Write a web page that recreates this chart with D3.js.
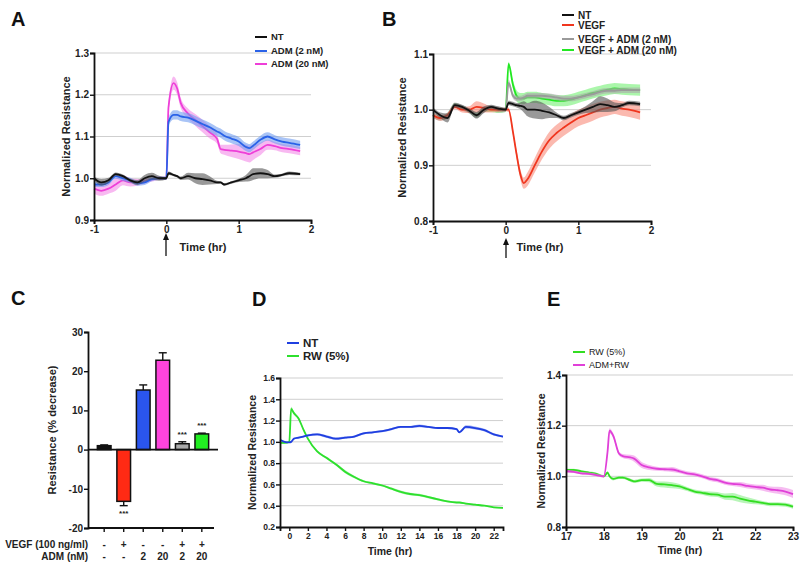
<!DOCTYPE html>
<html><head><meta charset="utf-8">
<script src="https://cdn.jsdelivr.net/npm/d3@7"></script>
<style>
body{margin:0;background:#fff;}
svg{display:block;font-family:"Liberation Sans",Arial,sans-serif;}
</style></head>
<body><svg id="c" width="800" height="566"></svg>
<script>
// ---------- Panel A data ----------
const tA = [-1,-0.9,-0.8,-0.7,-0.6,-0.5,-0.4,-0.3,-0.2,-0.1,0,0.03,0.1,0.15,0.2,0.3,0.4,0.5,0.6,0.7,0.75,0.8,0.9,1.0,1.1,1.15,1.2,1.3,1.4,1.5,1.6,1.7,1.85];
const A_NT    = [1.0,0.99,0.995,1.01,1.005,0.995,0.99,1.0,1.005,1.0,1.0,1.012,1.008,1.005,1.0,1.005,1.0,0.998,0.995,0.99,0.99,0.985,0.99,0.995,1.0,1.005,1.01,1.012,1.01,1.005,1.008,1.012,1.01];
const A_NT_err= [0.004,0.008,0.006,0.004,0.004,0.004,0.006,0.008,0.008,0.006,0.003,0.004,0.003,0.003,0.004,0.008,0.012,0.014,0.01,0.004,0.003,0.003,0.003,0.004,0.008,0.012,0.014,0.012,0.01,0.004,0.003,0.004,0.003];
const A_ADM2  = [0.985,0.985,0.99,1.005,1.0,0.995,0.988,0.99,0.998,1.0,1.0,1.135,1.152,1.152,1.148,1.145,1.138,1.13,1.122,1.112,1.108,1.102,1.095,1.088,1.075,1.072,1.078,1.092,1.1,1.093,1.088,1.085,1.08];
const A_ADM2_err=[0.006,0.006,0.006,0.006,0.006,0.006,0.006,0.006,0.005,0.004,0.004,0.01,0.011,0.011,0.011,0.011,0.011,0.011,0.011,0.011,0.011,0.011,0.011,0.011,0.01,0.01,0.01,0.01,0.01,0.01,0.01,0.01,0.01];
const A_ADM20 = [0.975,0.97,0.975,0.985,0.995,0.99,0.99,0.993,0.997,1.0,1.0,1.17,1.228,1.215,1.18,1.155,1.14,1.125,1.11,1.095,1.07,1.068,1.066,1.064,1.06,1.058,1.062,1.07,1.08,1.077,1.072,1.07,1.065];
const A_ADM20_err=[0.012,0.012,0.012,0.015,0.012,0.01,0.008,0.006,0.005,0.004,0.004,0.012,0.016,0.015,0.012,0.012,0.014,0.015,0.015,0.012,0.01,0.012,0.015,0.018,0.02,0.02,0.018,0.015,0.012,0.01,0.01,0.01,0.01];

// ---------- Panel B data ----------
const tB = [-1,-0.9,-0.8,-0.7,-0.6,-0.5,-0.4,-0.3,-0.2,-0.1,0,0.04,0.1,0.15,0.2,0.25,0.3,0.4,0.5,0.6,0.7,0.8,0.9,1.0,1.1,1.2,1.3,1.4,1.5,1.6,1.7,1.85];
const B_NT     = [1.0,0.99,0.985,1.008,1.005,0.998,0.99,1.0,1.005,1.002,1.0,1.012,1.01,1.008,1.007,1.005,1.0,1.0,0.998,0.995,0.99,0.985,0.99,0.995,1.0,1.005,1.01,1.008,1.005,1.008,1.012,1.01];
const B_NT_err = [0.004,0.005,0.008,0.004,0.004,0.004,0.006,0.006,0.004,0.004,0.003,0.004,0.004,0.004,0.006,0.01,0.012,0.016,0.015,0.01,0.005,0.004,0.004,0.004,0.006,0.01,0.014,0.012,0.008,0.004,0.004,0.004];
const B_VEGF   = [0.99,0.985,0.99,1.005,1.0,1.0,1.005,1.003,1.0,1.0,1.0,1.0,0.96,0.92,0.885,0.868,0.875,0.9,0.925,0.945,0.958,0.968,0.977,0.985,0.99,0.995,1.0,1.003,1.005,1.002,1.0,0.995];
const B_VEGF_err=[0.004,0.005,0.004,0.004,0.005,0.006,0.01,0.008,0.005,0.004,0.003,0.004,0.005,0.007,0.009,0.01,0.012,0.013,0.014,0.015,0.015,0.015,0.015,0.015,0.015,0.015,0.014,0.014,0.013,0.013,0.013,0.013];
const B_ADM2   = [0.99,0.985,0.99,1.008,1.003,0.998,0.99,1.0,1.003,1.0,1.0,1.048,1.025,1.02,1.02,1.022,1.025,1.025,1.025,1.024,1.022,1.02,1.02,1.022,1.025,1.028,1.032,1.034,1.034,1.035,1.035,1.035];
const B_ADM2_err=[0.005,0.005,0.005,0.005,0.005,0.005,0.005,0.005,0.005,0.005,0.004,0.006,0.005,0.005,0.005,0.005,0.005,0.005,0.005,0.005,0.005,0.005,0.005,0.005,0.005,0.005,0.005,0.005,0.005,0.005,0.005,0.005];
const B_ADM20  = [0.99,0.985,0.99,1.008,1.003,0.998,0.99,1.0,1.0,0.998,1.0,1.082,1.045,1.025,1.02,1.02,1.022,1.022,1.02,1.018,1.016,1.016,1.018,1.022,1.026,1.03,1.033,1.036,1.038,1.037,1.036,1.035];
const B_ADM20_err=[0.004,0.004,0.004,0.004,0.004,0.004,0.004,0.004,0.004,0.004,0.004,0.004,0.008,0.01,0.01,0.01,0.01,0.01,0.01,0.01,0.01,0.01,0.01,0.01,0.01,0.01,0.01,0.01,0.01,0.01,0.01,0.01];

// ---------- Panel C data ----------
const cCats   = ["NT","VEGF","ADM2","ADM20","VEGF+ADM2","VEGF+ADM20"];
const cValues = [1.0,-13.2,15.2,22.8,1.5,4.0];
const cErrors = [0.2,1.1,1.3,1.9,0.5,0.2];
const cVEGF   = ["-","+","-","-","+","+"];
const cADM    = ["-","-","2","20","2","20"];
const cStars  = ["","***","","","***","***"];
const cColors = ["#111111","#ff2a14","#2a55ee","#ff44dd","#aaaaaa","#22ee22"];
const cYTicks = [30,20,10,0,-10,-20];

// ---------- Panel D data ----------
const tD = [-1,-0.5,0,0.2,0.5,1,1.5,2,3,4,5,6,7,8,9,10,11,12,13,14,15,16,17,18,18.3,19,20,21,22,23];
const D_NT = [1.02,1.0,0.995,1.0,1.03,1.04,1.05,1.06,1.07,1.05,1.03,1.04,1.05,1.08,1.09,1.10,1.12,1.14,1.14,1.15,1.14,1.13,1.13,1.12,1.09,1.14,1.13,1.11,1.07,1.05];
const D_NT_err = [0.008,0.006,0.006,0.006,0.006,0.008,0.008,0.01,0.01,0.012,0.012,0.01,0.01,0.01,0.01,0.01,0.01,0.01,0.01,0.012,0.01,0.01,0.01,0.01,0.01,0.015,0.015,0.012,0.01,0.008];
const D_RW = [0.99,0.99,1.0,1.31,1.27,1.22,1.12,1.03,0.91,0.85,0.79,0.72,0.67,0.63,0.61,0.59,0.56,0.53,0.51,0.5,0.48,0.46,0.44,0.43,0.43,0.42,0.41,0.40,0.385,0.38];
const D_RW_err = [0.006,0.006,0.006,0.02,0.015,0.012,0.01,0.01,0.01,0.01,0.012,0.015,0.012,0.01,0.01,0.01,0.01,0.012,0.012,0.012,0.012,0.01,0.008,0.008,0.008,0.008,0.008,0.006,0.006,0.006];

// ---------- Panel E data ----------
const tE = [17,17.2,17.4,17.6,17.8,18,18.1,18.15,18.25,18.4,18.5,18.7,18.8,19,19.2,19.4,19.6,19.8,20,20.2,20.4,20.6,20.8,21,21.2,21.4,21.6,21.8,22,22.2,22.4,22.6,22.8,23];
const E_RW = [1.025,1.025,1.02,1.015,1.01,1.0,1.015,1.0,0.99,0.995,0.995,0.985,0.98,0.985,0.985,0.97,0.968,0.965,0.96,0.95,0.94,0.935,0.93,0.928,0.92,0.92,0.912,0.905,0.9,0.895,0.89,0.89,0.888,0.88];
const E_RW_err = [0.005,0.005,0.005,0.005,0.005,0.005,0.006,0.006,0.006,0.006,0.006,0.006,0.006,0.006,0.008,0.01,0.012,0.012,0.01,0.008,0.008,0.008,0.01,0.01,0.012,0.014,0.014,0.012,0.01,0.008,0.008,0.008,0.008,0.008];
const E_ADMRW = [1.02,1.018,1.012,1.01,1.005,1.0,1.1,1.18,1.16,1.09,1.08,1.075,1.07,1.045,1.035,1.03,1.028,1.027,1.02,1.012,1.008,1.0,0.99,0.985,0.975,0.97,0.968,0.962,0.958,0.955,0.948,0.945,0.94,0.93];
const E_ADMRW_err = [0.005,0.005,0.005,0.005,0.005,0.005,0.008,0.01,0.01,0.008,0.008,0.01,0.012,0.012,0.01,0.008,0.008,0.01,0.008,0.008,0.008,0.008,0.008,0.008,0.008,0.008,0.01,0.01,0.01,0.012,0.012,0.014,0.015,0.016];

const svg = d3.select("#c");
const FONT = "'Liberation Sans', Arial, sans-serif";
const plain = d => String(d);            // hyphen-minus like the original
const oneDec = d => d.toFixed(1);

function letter(x, y, t) {
  svg.append("text").attr("x", x).attr("y", y).text(t)
    .attr("font-size", 20).attr("font-weight", "bold").attr("fill", "#111");
}

function styleAxis(g, fs) {
  g.selectAll("path.domain").attr("stroke", "#111").attr("stroke-width", 1.8);
  g.selectAll(".tick line").attr("stroke", "#111").attr("stroke-width", 1.4);
  g.selectAll(".tick text").attr("font-size", fs).attr("font-weight", "bold")
    .attr("fill", "#222").attr("font-family", FONT);
}

function linePanel(o) {
  const x = d3.scaleLinear().domain(o.xdom).range([o.left, o.right]);
  const y = d3.scaleLinear().domain(o.ydom).range([o.bottom, o.top]);
  const g = svg.append("g");
  g.selectAll("line.grid").data(o.grid).join("line")
    .attr("x1", o.left).attr("x2", o.right)
    .attr("y1", d => y(d)).attr("y2", d => y(d))
    .attr("stroke", "#cfcfcf").attr("stroke-width", 1);
  o.series.forEach(s => {
    const pts = s.t.map((t, i) => ({t, v: s.v[i], e: s.e[i]}));
    g.append("path").datum(pts)
      .attr("d", d3.area().x(d => x(d.t)).y0(d => y(d.v - d.e)).y1(d => y(d.v + d.e)).curve(d3.curveMonotoneX))
      .attr("fill", s.band).attr("fill-opacity", s.bandOp);
    g.append("path").datum(pts)
      .attr("d", d3.line().x(d => x(d.t)).y(d => y(d.v)).curve(d3.curveMonotoneX))
      .attr("fill", "none").attr("stroke", s.color).attr("stroke-width", s.w || 1.8);
  });
  const ax = g.append("g").attr("transform", `translate(0,${o.bottom})`)
    .call(d3.axisBottom(x).tickValues(o.xticks).tickSize(4).tickPadding(2).tickFormat(plain));
  styleAxis(ax, o.tfs);
  const ay = g.append("g").attr("transform", `translate(${o.left},0)`)
    .call(d3.axisLeft(y).tickValues(o.yticks).tickSize(4).tickPadding(1).tickFormat(oneDec));
  styleAxis(ay, o.tfs);
  svg.append("text").attr("transform", `translate(${o.ylx},${(o.top + o.bottom) / 2}) rotate(-90)`)
    .attr("text-anchor", "middle").attr("font-size", o.lfs).attr("font-weight", "bold").attr("fill", "#222")
    .text("Normalized Resistance");
  svg.append("text").attr("x", o.xlx).attr("y", o.xly).attr("text-anchor", "middle")
    .attr("font-size", o.lfs).attr("font-weight", "bold").attr("fill", "#222").text("Time (hr)");
  o.series.forEach(s => {
    const ly = s.legY;
    svg.append("line").attr("x1", o.legX).attr("x2", o.legX + 12).attr("y1", ly).attr("y2", ly)
      .attr("stroke", s.color).attr("stroke-width", 2);
    svg.append("text").attr("x", o.legX + 16).attr("y", ly).attr("dy", "0.35em")
      .attr("font-size", o.legfs).attr("font-weight", o.legfw || "bold").attr("fill", "#222").text(s.name);
  });
  return {x, y};
}

function arrow(x, y1, y2) {
  svg.append("line").attr("x1", x).attr("x2", x).attr("y1", y2).attr("y2", y1 + 4)
    .attr("stroke", "#111").attr("stroke-width", 1.3);
  svg.append("path").attr("d", `M${x},${y1} L${x - 3},${y1 + 7} L${x + 3},${y1 + 7} Z`).attr("fill", "#111");
}

// ---------- Panel A ----------
letter(11, 26, "A");
linePanel({
  left: 94, right: 311, top: 53, bottom: 220,
  xdom: [-1, 2], ydom: [0.9, 1.3], xticks: [-1, 0, 1, 2], yticks: [0.9, 1.0, 1.1, 1.2, 1.3],
  grid: [1.0, 1.1, 1.2, 1.3], tfs: 10, lfs: 11,
  ylx: 70, xlx: 203, xly: 251,
  legX: 255, legfs: 9.5,
  series: [
    {name: "ADM (20 nM)", legY: 64, t: tA, v: A_ADM20, e: A_ADM20_err, color: "#ee3fd8", band: "#f27fe6", bandOp: 0.55},
    {name: "ADM (2 nM)", legY: 51, t: tA, v: A_ADM2, e: A_ADM2_err, color: "#2a62e8", band: "#6f9cf0", bandOp: 0.6},
    {name: "NT", legY: 37, t: tA, v: A_NT, e: A_NT_err, color: "#111111", band: "#555555", bandOp: 0.6}
  ]
});
arrow(166, 233, 256);

// ---------- Panel B ----------
letter(382, 26, "B");
linePanel({
  left: 433, right: 651, top: 54, bottom: 221,
  xdom: [-1, 2], ydom: [0.8, 1.1], xticks: [-1, 0, 1, 2], yticks: [0.8, 0.9, 1.0, 1.1],
  grid: [0.9, 1.0, 1.1], tfs: 10, lfs: 11,
  ylx: 406, xlx: 540, xly: 251,
  legX: 562, legfs: 10,
  series: [
    {name: "VEGF + ADM (20 nM)", legY: 50, t: tB, v: B_ADM20, e: B_ADM20_err, color: "#22e822", band: "#66ee66", bandOp: 0.55},
    {name: "VEGF + ADM (2 nM)", legY: 39, t: tB, v: B_ADM2, e: B_ADM2_err, color: "#9a9a9a", band: "#aaaaaa", bandOp: 0.6},
    {name: "VEGF", legY: 25, t: tB, v: B_VEGF, e: B_VEGF_err, color: "#f0361e", band: "#f7806e", bandOp: 0.55},
    {name: "NT", legY: 15, t: tB, v: B_NT, e: B_NT_err, color: "#111111", band: "#555555", bandOp: 0.6}
  ]
});
arrow(506, 238, 258);

// ---------- Panel C ----------
letter(11, 305, "C");
{
  const x = d3.scaleBand().domain(cCats).range([91.5, 214.5]).padding(0.3);
  const y = d3.scaleLinear().domain([-20, 30]).range([528, 332]);
  const g = svg.append("g");
  const data = cCats.map((c, i) => ({c, v: cValues[i], e: cErrors[i], col: cColors[i], s: cStars[i]}));
  data.forEach(d => {
    const cx = x(d.c) + x.bandwidth() / 2;
    const tip = d.v >= 0 ? d.v + d.e : d.v - d.e;
    g.append("line").attr("x1", cx).attr("x2", cx).attr("y1", y(d.v)).attr("y2", y(tip))
      .attr("stroke", "#111").attr("stroke-width", 1.4);
    g.append("line").attr("x1", cx - 4).attr("x2", cx + 4).attr("y1", y(tip)).attr("y2", y(tip))
      .attr("stroke", "#111").attr("stroke-width", 1.4);
  });
  g.selectAll("rect").data(data).join("rect")
    .attr("x", d => x(d.c)).attr("width", x.bandwidth())
    .attr("y", d => y(Math.max(0, d.v))).attr("height", d => Math.abs(y(d.v) - y(0)))
    .attr("fill", d => d.col).attr("stroke", "#111").attr("stroke-width", 1.5);
  g.append("line").attr("x1", 88).attr("x2", 218).attr("y1", y(0)).attr("y2", y(0))
    .attr("stroke", "#111").attr("stroke-width", 1.8);
  data.forEach(d => {
    if (!d.s) return;
    const cx = x(d.c) + x.bandwidth() / 2;
    const yy = d.v >= 0 ? y(d.v + d.e) - 5 : y(d.v - d.e) + 10;
    g.append("text").attr("x", cx).attr("y", yy).attr("text-anchor", "middle")
      .attr("font-size", 8).attr("font-weight", "bold").attr("fill", "#222").text(d.s);
  });
  const ay = g.append("g").attr("transform", "translate(88,0)")
    .call(d3.axisLeft(y).tickValues(cYTicks).tickSize(4).tickPadding(1).tickFormat(plain));
  styleAxis(ay, 10);
  const ax = g.append("g").attr("transform", "translate(0,528)")
    .call(d3.axisBottom(x).tickSize(4).tickFormat(""));
  styleAxis(ax, 10);
  ax.select("path.domain").attr("d", "M88,0H214");
  svg.append("text").attr("transform", "translate(56,430) rotate(-90)").attr("text-anchor", "middle")
    .attr("font-size", 11).attr("font-weight", "bold").attr("fill", "#222").text("Resistance (% decrease)");
  svg.append("text").attr("x", 88).attr("y", 548).attr("text-anchor", "end")
    .attr("font-size", 10).attr("font-weight", "bold").attr("fill", "#222").text("VEGF (100 ng/ml)");
  svg.append("text").attr("x", 88).attr("y", 560).attr("text-anchor", "end")
    .attr("font-size", 10).attr("font-weight", "bold").attr("fill", "#222").text("ADM (nM)");
  cCats.forEach((c, i) => {
    const cx = x(c) + x.bandwidth() / 2;
    svg.append("text").attr("x", cx).attr("y", 548).attr("text-anchor", "middle")
      .attr("font-size", 10).attr("font-weight", "bold").attr("fill", "#222").text(cVEGF[i]);
    svg.append("text").attr("x", cx).attr("y", 560).attr("text-anchor", "middle")
      .attr("font-size", 10).attr("font-weight", "bold").attr("fill", "#222").text(cADM[i]);
  });
}

// ---------- Panel D ----------
letter(252, 306, "D");
linePanel({
  left: 280, right: 503, top: 378, bottom: 527,
  xdom: [-1, 23], ydom: [0.2, 1.6], xticks: d3.range(0, 23, 2), yticks: [0.2, 0.4, 0.6, 0.8, 1.0, 1.2, 1.4, 1.6],
  grid: [0.4, 0.6, 0.8, 1.0, 1.2, 1.4, 1.6], tfs: 8.5, lfs: 10.5,
  ylx: 256, xlx: 390, xly: 555,
  legX: 287, legfs: 11.5,
  series: [
    {name: "RW (5%)", legY: 356, t: tD, v: D_RW, e: D_RW_err, color: "#2de02d", band: "#7ee87e", bandOp: 0.6},
    {name: "NT", legY: 343, t: tD, v: D_NT, e: D_NT_err, color: "#1f3fe0", band: "#6a80ee", bandOp: 0.6}
  ]
});

// ---------- Panel E ----------
letter(547, 306, "E");
linePanel({
  left: 566, right: 793, top: 375, bottom: 527,
  xdom: [17, 23], ydom: [0.8, 1.4], xticks: d3.range(17, 24, 1), yticks: [0.8, 1.0, 1.2, 1.4],
  grid: [1.0, 1.2, 1.4], tfs: 10, lfs: 10.5,
  ylx: 545, xlx: 680, xly: 554,
  legX: 573, legfs: 9, legfw: "normal",
  series: [
    {name: "RW (5%)", legY: 352, t: tE, v: E_RW, e: E_RW_err, color: "#33dd22", band: "#88ee88", bandOp: 0.6},
    {name: "ADM+RW", legY: 365, t: tE, v: E_ADMRW, e: E_ADMRW_err, color: "#e040d8", band: "#f090e8", bandOp: 0.6}
  ]
});
</script></body></html>
